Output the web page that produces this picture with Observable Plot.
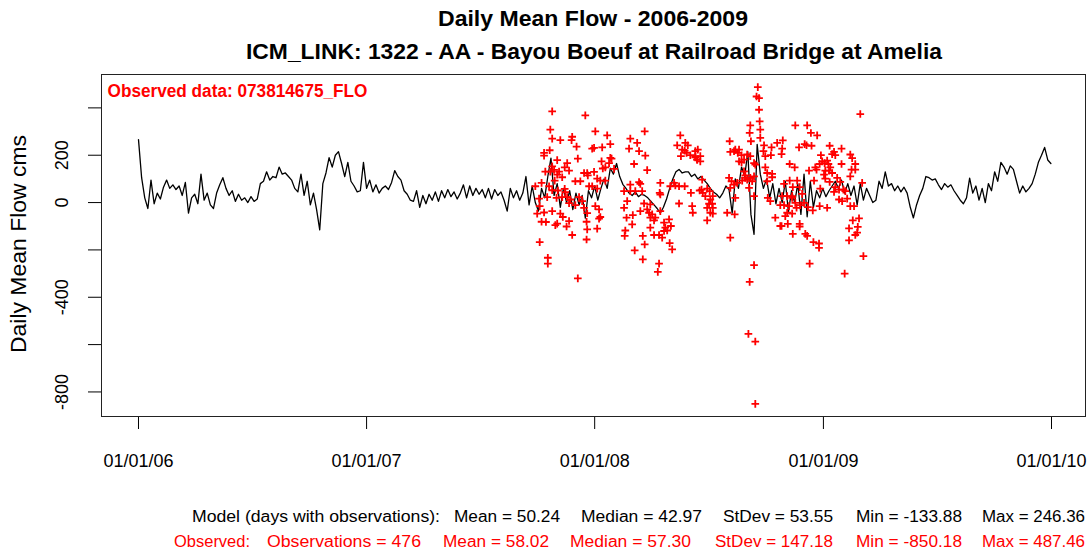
<!DOCTYPE html>
<html><head><meta charset="utf-8">
<script src="https://cdn.jsdelivr.net/npm/d3@7"></script>
<script src="https://cdn.jsdelivr.net/npm/@observablehq/plot@0.6"></script>
<style>body{margin:0;background:#fff}svg{display:block}</style>
</head><body><div id="chart"></div>
<script>
// ---- data ----
const seriesStart = "2006-01-01";
const modelStepDays = 5; // model daily mean flow sampled every 5 days
const modelFlow = [
266,105,20,-25,95,-5,40,15,65,95,
60,75,55,70,30,85,-45,20,35,-5,
120,10,40,-10,-25,40,75,105,60,30,
50,5,35,10,20,0,25,5,15,80,
90,130,95,110,105,150,120,125,110,95,
60,45,120,30,90,-10,40,-30,-115,80,
125,190,150,200,215,165,110,170,90,70,
45,50,170,60,95,45,75,40,60,70,
55,85,135,110,95,50,35,10,5,50,
-20,30,-5,35,10,45,5,50,20,55,
25,45,15,40,75,20,70,30,60,35,
55,20,60,15,55,30,45,10,-36,60,
20,50,10,40,110,-10,70,0,-36,60,
20,110,188,30,80,-20,60,0,50,-30,
40,-10,30,-66,50,20,70,10,60,100,
60,145,120,165,110,77,60,40,30,45,
25,35,30,20,5,-10,-25,-45,-20,15,
60,100,130,140,125,130,130,110,120,100,
110,95,80,60,45,35,20,40,70,55,
-45,100,60,150,110,215,-50,-134,246,120,
60,100,20,80,-5,60,0,90,-40,50,
0,80,-50,120,-60,90,-20,50,20,60,
25,50,70,90,60,95,40,80,30,70,
-10,80,10,60,30,0,10,90,60,130,
70,80,50,70,45,65,40,-20,-65,-10,
30,60,110,105,95,100,75,55,80,65,
75,50,30,10,-5,20,103,40,70,10,
60,0,80,50,130,90,170,150,120,155,
140,90,40,70,45,60,80,120,170,200,
233,180,165
];
// observed points: day offset from 2006-01-01 and flow (cms)
const obsDay = [
662,715,659,731,750,662,675,694,693,755,701,649,649,658,729,742,726,703,670,686,
757,741,753,747,662,682,743,651,659,665,673,689,713,718,729,761,670,678,719,734,
645,666,699,707,739,747,635,657,721,726,662,671,682,683,678,686,691,705,734,641,
669,654,689,699,710,713,731,737,642,662,649,638,675,679,739,718,645,652,670,667,
689,737,685,717,734,694,718,717,642,655,655,703,
831,978,976,987,987,
810,787,798,785,801,811,867,875,879,862,870,874,877,883,891,894,868,755,793,814,
801,803,787,777,782,787,795,806,809,835,834,835,851,859,857,865,874,884,865,886,
777,781,791,803,814,819,817,819,822,825,827,835,849,841,843,846,841,838,833,825,
819,790,779,778,807,810,852,850,854,794,807,833,887,898,
991,989,993,993,994,979,978,995,995,980,1001,1000,1003,1013,1022,1031,1012,1029,946,895,
891,894,899,947,953,955,961,959,965,961,965,969,974,979,985,987,969,971,971,966,
958,974,979,985,982,977,1003,1006,1014,1006,1014,1033,945,949,947,953,902,901,903,910,
914,907,919,915,913,918,910,919,915,919,910,942,954,955,1007,1011,1019,1029,985,947,
891,899,985,
1155,1051,1070,1076,1086,1030,1057,1066,1069,1077,1106,1125,1110,1113,1115,1139,1142,1147,1141,1147,
1092,1094,1090,1098,1102,1104,1107,1105,1099,1110,1097,1099,1125,1083,1085,1073,1042,1050,1042,1054,
1058,1047,1062,1030,1038,1046,1046,1051,1033,1027,1041,1053,1059,1065,1071,1090,1081,1091,1106,1118,
1123,1115,1121,1128,1131,1113,1139,1158,1121,1126,1134,1139,1145,1038,1046,1035,1079,1102,1027,1039,
1058,1058,1047,1067,1070,1153,1143,1137,1151,1150,1147,1137,1080,1089,1089,1160,1074,1130
];
const obsFlow = [
385,368,308,301,284,270,264,278,264,247,236,210,198,221,231,233,228,186,179,167,
186,174,167,149,153,149,144,131,131,138,131,135,125,125,130,142,118,107,115,101,
83,93,90,90,93,93,69,69,69,69,52,51,58,44,23,23,13,23,59,17,
20,23,-2,-11,6,-22,-15,-29,-15,-36,-42,-47,-47,-61,-61,-45,-81,-82,-89,-95,
-78,-68,-101,-81,-110,-137,-113,-156,-167,-233,-258,-320,
-293,-335,-555,-587,-850.18,
301,270,252,228,217,198,284,252,242,242,224,219,210,200,196,181,196,189,163,137,
86,79,76,48,6,48,48,48,-4,83,41,34,69,72,83,69,69,41,-4,-15,
-22,-64,-53,-36,-29,-8,-43,-64,-50,-75,-64,-36,-71,-85,-106,-118,-120,-148,-137,-137,
-106,-92,-118,-141,-141,-177,-99,-171,-198,-202,-240,-258,-43,51,
487.46,448,441,392,343,326,294,308,273,259,242,217,196,233,252,263,200,205,259,224,
191,181,196,214,217,224,224,210,200,174,170,181,203,196,167,160,132,115,104,93,
83,97,104,111,90,62,149,125,121,90,107,79,104,90,62,76,97,55,41,59,
48,27,27,13,-5,-5,-22,-22,-43,-47,-75,-43,-50,20,20,6,-64,-99,27,-148,
217,174,-264,
374,326,326,294,284,228,233,247,242,240,240,228,205,214,200,203,188,163,139,139,
200,174,163,167,177,163,149,135,135,125,118,101,163,149,139,135,163,149,93,93,
65,65,37,27,27,27,20,-1,-11,-11,-15,-22,-11,-1,-19,-15,93,59,87,104,
87,65,55,55,48,45,111,83,13,6,17,-15,-15,-43,-47,-57,-33,-22,-99,-90,
-90,-101,-132,-132,-141,-67,-75,-109,-103,-127,-137,-160,-167,-173,-191,-226,-258,-300
];
const xTickDates = ["2006-01-01","2007-01-01","2008-01-01","2009-01-01","2010-01-01"];
const yTicks = [400,200,0,-200,-400,-600,-800];
const yTickLabels = [200,0,-400,-800];

const titleText = "Daily Mean Flow - 2006-2009";
const subtitleText = "ICM_LINK: 1322 - AA - Bayou Boeuf at Railroad Bridge at Amelia";
const yLabel = "Daily Mean Flow cms";
const obsLabel = "Observed data: 073814675_FLO";
const modelStats = ["Model (days with observations):","Mean = 50.24","Median = 42.97","StDev = 53.55","Min = -133.88","Max = 246.36"];
const obsStats = ["Observed:","Observations = 476","Mean = 58.02","Median = 57.30","StDev = 147.18","Min = -850.18","Max = 487.46"];

// ---- build ----
const dayMs = 864e5;
const t0 = new Date(seriesStart + "T00:00:00Z");
const model = modelFlow.map((v, i) => ({date: new Date(+t0 + i * modelStepDays * dayMs), flow: v}));
const obs = obsDay.map((d, i) => ({date: new Date(+t0 + d * dayMs), flow: obsFlow[i]}));
const fmt = d3.utcFormat("%m/%d/%y");

const chart = Plot.plot({
  width: 1091, height: 555,
  marginLeft: 101, marginRight: 6, marginTop: 74, marginBottom: 139,
  style: {fontFamily: "'Liberation Sans', Arial, sans-serif", color: "#000", background: "#fff", overflow: "visible"},
  x: {type: "utc", label: null, domain: [new Date(+t0 - 59.2 * dayMs), new Date(Date.UTC(2010, 0, 1) + 54.4 * dayMs)]},
  y: {label: null, domain: [-903.7, 541]},
  marks: [
    Plot.axisX({ticks: xTickDates.map(s => new Date(s + "T00:00:00Z")), tickSize: 13, tickPadding: 25, tickFormat: fmt, fontSize: 18, label: null}),
    Plot.axisY({ticks: yTicks, tickSize: 13, tickFormat: () => "", label: null}),
    Plot.text(yTickLabels, {y: d => d, text: d => String(d), frameAnchor: "left", dx: -39, rotate: -90, fontSize: 18, textAnchor: "middle", lineAnchor: "middle"}),
    Plot.lineY(model, {x: "date", y: "flow", stroke: "black", strokeWidth: 1.3}),
    Plot.dot(obs, {x: "date", y: "flow", symbol: "plus", r: 2.6, stroke: "red", fill: "none", strokeWidth: 1.8}),
    Plot.frame({stroke: "#222"})
  ]
});
document.getElementById("chart").appendChild(chart);

const svg = d3.select(chart);
function addText(str, x, y, o = {}) {
  const t = svg.append("text").text(str)
    .attr("x", x).attr("y", y)
    .attr("font-family", o.family || "'Liberation Sans', Arial, sans-serif")
    .attr("font-size", o.size || 16)
    .attr("font-weight", o.weight || "normal")
    .attr("fill", o.fill || "black")
    .attr("text-anchor", o.anchor || "start");
  if (o.len) t.attr("textLength", o.len).attr("lengthAdjust", "spacingAndGlyphs");
  if (o.rotate) t.attr("transform", `rotate(${o.rotate},${x},${y})`);
  return t;
}
addText(titleText, 593, 26, {size: 22, weight: "bold", anchor: "middle", len: 310});
addText(subtitleText, 594, 59, {size: 22, weight: "bold", anchor: "middle", len: 696});
addText(obsLabel, 107.5, 97, {size: 17.5, weight: "bold", fill: "red", len: 260});
addText(yLabel, 26, 244, {size: 22.5, anchor: "middle", rotate: -90, len: 218});

const narrow = "'Liberation Sans Narrow', 'Arial Narrow', 'Liberation Sans', sans-serif";
const modelPos = [[192,440],[454,560],[581,702],[723,833],[856,962],[982,1085]];
const obsPos = [[174,250],[267,421],[443,549],[570,691],[715,833],[856,962],[982,1085]];
modelStats.forEach((s, i) => addText(s, modelPos[i][0], 522, {size: 16, family: narrow, len: modelPos[i][1] - modelPos[i][0]}));
obsStats.forEach((s, i) => addText(s, obsPos[i][0], 547, {size: 16, family: narrow, fill: "red", len: obsPos[i][1] - obsPos[i][0]}));
</script>
</body></html>
